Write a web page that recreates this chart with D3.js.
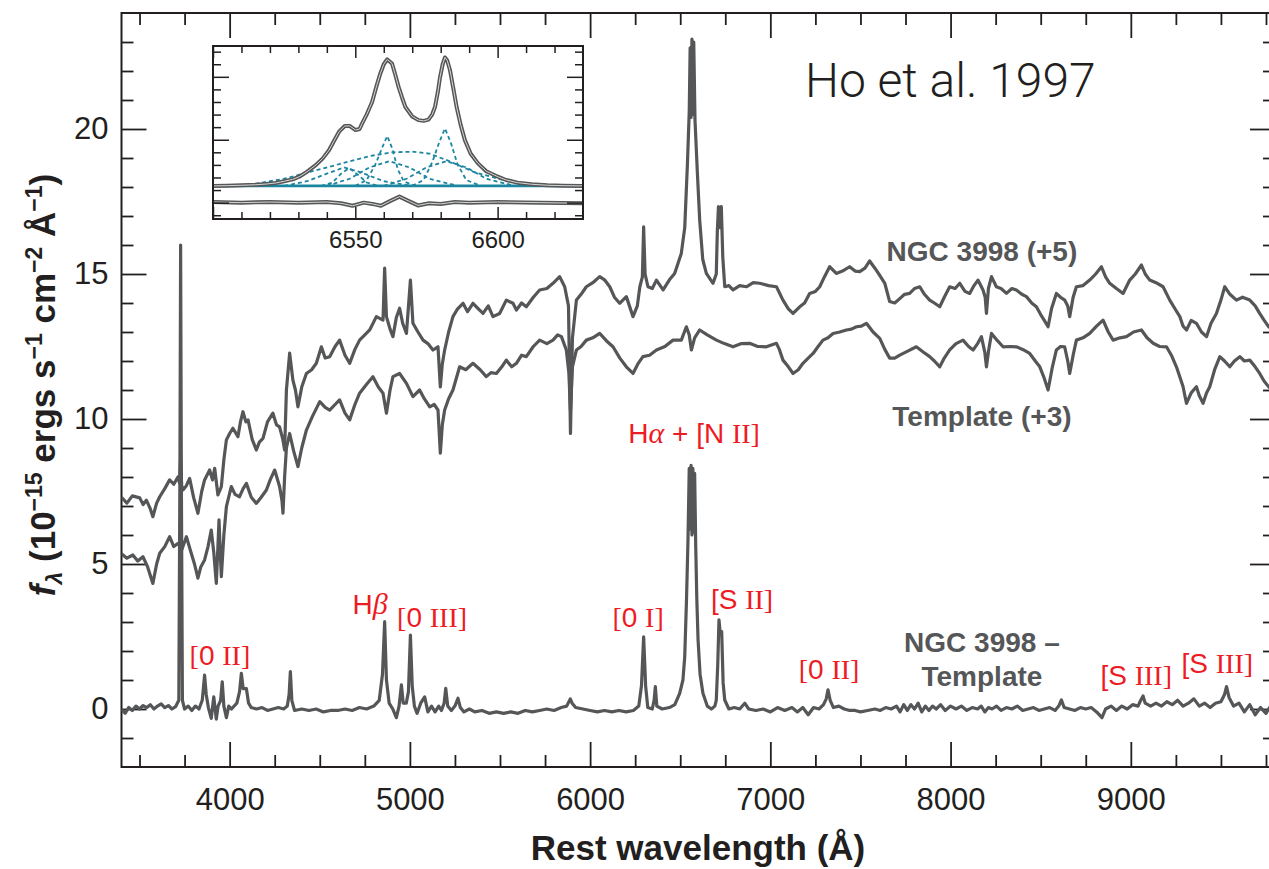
<!DOCTYPE html>
<html lang="en">
<head>
<meta charset="UTF-8">
<title>NGC 3998 spectrum</title>
<script src="https://d3js.org/d3.v7.min.js"></script>
<style>
  body { margin: 0; background: #fff; }
  svg { display: block; }
</style>
</head>
<body>
<svg id="chart" width="1269" height="869"></svg>
<script>
// ---- data (wavelength in Å, flux in 1e-15 erg/s/cm2/Å, as plotted) ----
// NGC 3998 spectrum, shifted by +5
const ngcSpectrum = [
  [3400,7.3],[3430,7.1],[3460,7.35],[3501,7.28],[3520,7.05],[3538,7.2],[3560,6.9],[3574,6.63],[3595,7.1],[3612,7.32],
  [3640,7.6],[3667,7.9],[3690,7.75],[3713,8.0],[3722,7.8],[3728,8.6],[3734,7.7],[3741,7.55],[3760,7.7],[3778,7.95],
  [3800,7.3],[3824,6.75],[3845,7.5],[3861,7.9],[3889,8.24],[3905,7.9],[3917,8.3],[3935,7.38],[3954,7.67],[3968,8.6],
  [3982,9.28],[4000,9.5],[4018,9.68],[4046,9.39],[4060,9.9],[4074,10.25],[4090,9.9],[4102,9.97],[4125,9.3],[4148,8.93],
  [4165,9.2],[4185,9.33],[4210,9.9],[4240,10.2],[4260,9.8],[4277,9.73],[4295,9.3],[4305,8.93],[4315,11.0],[4333,12.27],
  [4351,11.34],[4365,11.0],[4379,10.42],[4400,11.1],[4426,11.57],[4455,11.7],[4481,11.92],[4509,12.49],[4530,12.1],[4555,12.15],
  [4585,12.5],[4610,12.72],[4640,12.2],[4666,11.92],[4695,12.4],[4721,12.72],[4750,12.9],[4777,13.07],[4814,13.53],[4851,13.41],
  [4860,15.2],[4870,13.53],[4890,13.1],[4906,12.84],[4925,13.5],[4943,13.82],[4960,13.3],[4981,12.95],[5003,14.79],[5017,13.3],
  [5045,13.0],[5073,12.72],[5100,12.6],[5128,12.38],[5156,12.49],[5169,11.11],[5180,11.9],[5193,12.38],[5215,13.0],[5239,13.53],
  [5265,13.8],[5295,13.99],[5320,13.7],[5350,13.99],[5380,13.8],[5406,13.64],[5435,13.9],[5461,13.53],[5498,13.64],[5535,14.1],
  [5572,13.99],[5591,13.76],[5620,14.0],[5646,13.87],[5685,14.2],[5720,14.45],[5760,14.5],[5794,14.68],[5831,14.91],[5859,14.56],
  [5880,13.9],[5891,9.5],[5902,12.8],[5924,14.1],[5950,14.3],[5979,14.56],[6015,14.7],[6053,14.91],[6080,14.8],[6109,14.56],
  [6135,14.2],[6164,13.99],[6201,14.22],[6238,13.53],[6262,13.9],[6276,14.56],[6290,14.9],[6297,16.63],[6305,15.0],[6321,14.56],
  [6345,14.5],[6368,14.79],[6405,14.45],[6440,14.8],[6469,15.02],[6506,15.71],[6525,16.6],[6540,18.8],[6550,20.6],[6555,22.8],
  [6560,20.4],[6565,23.1],[6570,20.5],[6575,23.0],[6582,20.3],[6595,18.5],[6608,16.86],[6625,15.5],[6645,15.02],[6682,14.68],
  [6700,15.0],[6706,16.5],[6712,17.32],[6720,16.6],[6728,17.32],[6736,15.6],[6747,14.56],[6770,14.6],[6793,14.45],[6830,14.6],
  [6867,14.56],[6905,14.7],[6941,14.68],[6990,14.6],[7034,14.56],[7070,14.1],[7100,13.8],[7126,13.64],[7163,13.87],[7190,14.0],
  [7218,14.33],[7250,14.4],[7274,14.56],[7300,14.9],[7329,15.25],[7366,15.02],[7400,15.1],[7440,15.25],[7470,15.1],[7496,15.08],
  [7525,15.2],[7551,15.45],[7580,15.2],[7607,14.95],[7635,14.68],[7662,14.05],[7690,14.0],[7718,14.15],[7745,14.3],[7773,14.33],
  [7800,14.5],[7829,14.56],[7855,14.3],[7884,14.1],[7910,14.0],[7940,13.87],[7965,14.2],[7995,14.56],[8025,14.5],[8051,14.68],
  [8080,14.4],[8106,14.33],[8130,14.6],[8152,14.79],[8180,14.45],[8192,14.2],[8199,13.64],[8210,14.5],[8227,14.91],[8254,14.56],
  [8280,14.5],[8310,14.33],[8340,14.5],[8365,14.45],[8395,14.3],[8421,14.22],[8450,14.0],[8476,13.87],[8500,13.6],[8520,13.4],
  [8541,13.18],[8560,13.8],[8587,14.33],[8610,14.2],[8633,14.1],[8650,13.9],[8661,13.53],[8680,14.2],[8698,14.56],[8735,14.6],
  [8772,14.79],[8805,15.0],[8837,15.25],[8860,14.9],[8883,14.68],[8920,14.5],[8957,14.33],[8994,14.79],[9025,15.0],[9059,15.31],
  [9080,15.0],[9105,14.79],[9140,14.7],[9179,14.56],[9216,14.1],[9245,13.8],[9272,13.53],[9290,13.2],[9309,13.07],[9335,13.4],
  [9364,13.3],[9392,13.0],[9420,12.84],[9445,13.3],[9475,13.64],[9500,14.1],[9521,14.56],[9550,14.3],[9586,14.1],[9620,14.2],
  [9660,14.1],[9690,13.9],[9715,13.64],[9740,13.4],[9765,13.18],[9800,13.0]
];

// Template spectrum, shifted by +3
const templateSpectrum = [
  [3400,5.35],[3430,5.2],[3463,5.31],[3490,5.1],[3519,5.25],[3545,4.9],[3574,4.33],[3595,5.0],[3612,5.37],[3640,5.6],
  [3667,5.94],[3690,5.6],[3713,5.71],[3735,5.5],[3760,5.94],[3787,5.37],[3805,5.0],[3824,4.51],[3840,4.9],[3861,5.14],
  [3880,5.6],[3898,6.17],[3912,5.4],[3926,4.33],[3935,5.6],[3941,6.52],[3948,5.4],[3954,4.56],[3968,6.0],[3982,6.98],
  [4009,7.67],[4030,7.4],[4055,7.32],[4075,7.6],[4093,7.78],[4120,7.3],[4148,7.09],[4175,7.3],[4204,7.55],[4225,7.9],
  [4250,8.24],[4277,7.67],[4290,7.2],[4296,6.75],[4305,8.0],[4315,9.0],[4333,9.5],[4355,8.9],[4379,8.36],[4400,9.0],
  [4426,9.62],[4460,10.1],[4500,10.6],[4530,10.4],[4555,10.31],[4585,10.5],[4610,10.66],[4640,10.2],[4666,9.97],[4695,10.5],
  [4721,10.89],[4760,11.2],[4795,11.46],[4825,11.1],[4851,10.89],[4870,10.2],[4890,11.0],[4906,11.46],[4943,11.57],[4981,11.23],
  [5017,10.77],[5054,11.0],[5080,10.7],[5110,10.42],[5135,10.5],[5156,10.31],[5169,8.82],[5180,9.8],[5193,10.31],[5215,10.7],
  [5239,11.0],[5276,11.8],[5310,11.7],[5350,11.92],[5390,11.7],[5424,11.46],[5450,11.6],[5480,11.57],[5510,11.8],[5535,12.03],
  [5565,11.8],[5591,11.92],[5620,12.2],[5646,12.15],[5685,12.5],[5720,12.72],[5760,12.6],[5794,12.72],[5820,12.9],[5841,12.84],
  [5868,12.38],[5882,11.6],[5891,10.3],[5902,11.8],[5924,12.38],[5950,12.5],[5979,12.72],[6015,12.8],[6053,12.95],[6090,12.7],
  [6127,12.49],[6165,12.1],[6201,11.8],[6238,11.57],[6265,11.9],[6293,12.15],[6330,12.2],[6368,12.38],[6415,12.5],[6460,12.72],
  [6506,12.72],[6534,13.18],[6550,12.9],[6562,12.38],[6580,12.8],[6608,13.07],[6650,12.9],[6701,12.72],[6745,12.6],[6793,12.49],
  [6840,12.6],[6885,12.61],[6930,12.5],[6978,12.49],[7034,12.61],[7050,12.4],[7070,12.03],[7100,11.8],[7126,11.57],[7155,11.7],
  [7181,11.92],[7210,12.1],[7237,12.26],[7265,12.5],[7292,12.72],[7320,12.8],[7348,12.95],[7385,13.0],[7422,13.07],[7450,13.1],
  [7478,13.18],[7505,13.2],[7533,13.3],[7570,13.0],[7607,12.78],[7635,12.4],[7662,12.1],[7690,12.1],[7718,12.2],[7765,12.35],
  [7810,12.49],[7850,12.3],[7884,12.15],[7910,12.0],[7940,11.8],[7965,12.1],[7995,12.38],[8030,12.6],[8069,12.72],[8100,12.5],
  [8125,12.38],[8150,12.6],[8171,12.84],[8190,12.3],[8199,11.8],[8212,12.4],[8227,12.95],[8260,12.7],[8291,12.49],[8330,12.5],
  [8365,12.49],[8400,12.4],[8439,12.26],[8470,12.0],[8495,11.8],[8520,11.4],[8541,11.0],[8565,11.8],[8587,12.38],[8610,12.5],
  [8633,12.49],[8650,12.0],[8661,11.57],[8680,12.2],[8698,12.72],[8735,12.8],[8772,12.95],[8810,13.2],[8846,13.41],[8875,13.0],
  [8902,12.72],[8940,12.8],[8976,12.84],[9015,13.0],[9059,13.07],[9090,12.8],[9124,12.61],[9160,12.5],[9198,12.49],[9225,12.2],
  [9253,11.8],[9275,11.4],[9290,11.11],[9300,10.8],[9309,10.54],[9335,10.9],[9364,11.11],[9380,10.8],[9401,10.54],[9420,10.9],
  [9438,11.11],[9465,11.7],[9494,12.15],[9520,12.0],[9549,11.8],[9575,12.0],[9605,12.15],[9630,12.0],[9660,12.03],[9690,11.8],
  [9715,11.57],[9740,11.3],[9765,11.11],[9800,10.9]
];

// NGC 3998 minus template
const residualSpectrum = [
  [3400,0.0],[3420,-0.15],[3440,0.05],[3460,-0.05],[3480,0.1],[3500,0.0],[3520,0.12],[3540,0.05],[3560,0.15],[3580,0.0],
  [3600,0.1],[3620,0.18],[3640,0.05],[3660,0.12],[3680,0.0],[3700,0.08],[3718,0.3],[3724,8.0],[3728,16.0],[3732,8.0],
  [3738,0.3],[3750,0.0],[3770,0.1],[3790,-0.05],[3810,0.1],[3830,0.0],[3848,0.3],[3861,1.17],[3870,0.5],[3882,0.05],
  [3898,-0.32],[3912,0.42],[3926,-0.35],[3936,0.1],[3950,0.3],[3959,0.94],[3968,0.1],[3982,-0.3],[3995,0.1],[4010,0.0],
  [4040,0.2],[4055,0.6],[4065,1.23],[4075,0.7],[4093,0.7],[4105,0.2],[4120,0.05],[4150,0.0],[4180,0.05],[4210,-0.05],
  [4240,0.0],[4270,0.05],[4300,0.0],[4320,0.1],[4330,0.5],[4337,1.29],[4345,0.3],[4360,-0.05],[4400,0.0],[4440,-0.05],
  [4480,0.0],[4520,-0.1],[4560,-0.05],[4600,-0.05],[4640,0.0],[4680,-0.05],[4720,0.05],[4760,0.0],[4800,0.1],[4830,0.3],
  [4848,1.2],[4860,3.01],[4870,1.0],[4885,0.2],[4905,0.0],[4925,-0.3],[4940,0.1],[4953,0.83],[4963,0.2],[4980,0.2],
  [4992,0.6],[5003,2.55],[5013,0.8],[5025,0.1],[5040,-0.15],[5060,0.2],[5082,0.42],[5100,-0.1],[5120,0.1],[5140,-0.1],
  [5160,0.1],[5175,-0.05],[5190,0.2],[5199,0.71],[5210,0.1],[5230,-0.05],[5250,0.1],[5267,0.37],[5280,0.05],[5300,-0.1],
  [5330,0.0],[5360,-0.1],[5400,-0.05],[5440,-0.15],[5480,-0.1],[5520,-0.15],[5560,-0.1],[5600,-0.15],[5640,-0.05],[5680,-0.1],
  [5720,-0.05],[5760,0.0],[5800,-0.05],[5840,0.05],[5870,0.1],[5890,0.35],[5900,0.2],[5920,0.05],[5960,0.0],[6000,-0.05],
  [6040,-0.1],[6080,-0.05],[6120,-0.1],[6160,-0.05],[6200,-0.1],[6240,-0.05],[6270,0.1],[6285,0.8],[6297,2.49],[6308,0.8],
  [6320,0.05],[6345,0.0],[6355,0.3],[6362,0.77],[6370,0.1],[6400,0.0],[6440,0.05],[6470,0.15],[6497,0.54],[6515,1.0],
  [6525,1.8],[6535,3.8],[6543,5.83],[6550,8.3],[6555,6.2],[6560,8.4],[6565,6.0],[6570,8.3],[6575,6.1],[6580,8.13],
  [6586,5.6],[6592,3.8],[6599,2.38],[6610,1.2],[6626,0.54],[6650,0.1],[6673,0.0],[6692,0.1],[6700,0.3],[6708,1.5],
  [6715,3.07],[6722,2.6],[6730,2.67],[6738,0.9],[6747,0.31],[6770,0.0],[6800,0.05],[6830,0.0],[6858,0.2],[6880,0.0],
  [6920,-0.05],[6960,0.0],[7000,-0.1],[7040,0.05],[7080,-0.05],[7120,0.05],[7150,-0.1],[7180,0.05],[7210,-0.2],[7240,0.05],
  [7270,0.0],[7295,0.15],[7310,0.35],[7320,0.66],[7332,0.3],[7350,0.05],[7380,0.1],[7410,0.0],[7440,-0.05],[7470,-0.05],
  [7500,-0.1],[7540,-0.05],[7580,0.0],[7610,-0.05],[7640,0.05],[7670,0.0],[7700,0.1],[7720,-0.1],[7740,0.15],[7760,-0.05],
  [7780,0.15],[7800,0.0],[7820,0.2],[7840,-0.1],[7860,0.1],[7880,-0.05],[7900,0.1],[7920,0.0],[7945,0.15],[7970,-0.05],
  [8000,0.1],[8030,0.0],[8060,0.1],[8090,-0.05],[8120,0.05],[8150,0.0],[8170,0.1],[8190,-0.1],[8210,0.05],[8230,0.0],
  [8255,0.1],[8280,-0.05],[8310,0.05],[8340,0.0],[8370,0.1],[8400,-0.05],[8430,0.0],[8460,0.05],[8490,-0.05],[8520,0.0],
  [8550,0.05],[8580,-0.05],[8600,0.1],[8615,0.31],[8630,0.05],[8660,0.0],[8690,-0.05],[8720,0.05],[8750,0.0],[8780,0.05],
  [8810,-0.1],[8840,-0.3],[8860,0.0],[8890,0.1],[8920,-0.05],[8950,0.1],[8980,0.0],[9010,0.15],[9040,0.1],[9055,0.3],
  [9068,0.45],[9080,0.2],[9110,0.1],[9140,0.2],[9170,0.1],[9200,0.25],[9230,0.15],[9260,0.3],[9290,0.1],[9320,0.2],
  [9350,0.35],[9380,0.1],[9410,0.2],[9440,0.05],[9470,0.2],[9500,0.25],[9520,0.5],[9531,0.77],[9545,0.4],[9570,0.1],
  [9600,0.2],[9630,-0.1],[9660,0.15],[9690,-0.2],[9720,0.05],[9750,-0.15],[9775,0.1],[9800,0.0]
];

// inset: Hα + [N II] region, arbitrary flux units
const insetProfile = [
  [6500,1.33],[6505,1.35],[6510,1.38],[6515,1.42],[6518.7,1.48],[6522,1.56],[6525,1.7],[6528,1.85],[6530.3,2.06],[6533,2.45],
  [6536.2,3.0],[6538.5,3.5],[6540.8,4.18],[6542.5,4.9],[6544.3,5.64],[6546.3,6.09],[6548,6.1],[6550.1,5.77],[6551.5,5.85],[6552.4,6.3],
  [6554,7.0],[6555.9,8.0],[6557.5,9.3],[6558.8,10.27],[6560,11.0],[6561.2,11.38],[6562.9,11.06],[6564,10.2],[6565.2,9.2],[6566.5,8.3],
  [6567.6,7.6],[6570,6.85],[6572.2,6.56],[6574,6.5],[6575.7,6.6],[6577,7.0],[6578,7.6],[6579,8.8],[6579.8,10.0],[6580.7,11.0],
  [6581.5,11.54],[6582.3,11.3],[6583.3,10.5],[6584.5,9.0],[6585.6,7.6],[6587,6.2],[6588.5,4.97],[6590.5,3.9],[6593.1,3.12],[6596,2.5],
  [6600.1,2.06],[6603,1.8],[6607,1.59],[6612,1.46],[6617.5,1.38],[6623,1.35],[6630,1.33]
];
const insetResidual = [
  [6500,0.05],[6510,0.0],[6520,0.05],[6530,0.0],[6540,0.05],[6545,-0.05],[6549,-0.25],[6553,0.0],[6556,-0.1],[6559,-0.25],
  [6562,0.1],[6565.5,0.48],[6569,0.1],[6572,-0.22],[6576,-0.05],[6580,-0.1],[6585,0.05],[6590,0.0],[6600,0.05],[6615,0.0],[6630,-0.05]
];
const insetContinuum = 1.33;
const insetComponents = [
  [[6538,1.33],[6542,1.6],[6545,2.3],[6547.8,2.75],[6551,2.2],[6554,1.6],[6558,1.33]],
  [[6550,1.33],[6554,1.8],[6557,3.0],[6559.5,4.4],[6561.2,5.3],[6563,4.3],[6565,2.6],[6567,1.7],[6571,1.33]],
  [[6570,1.33],[6574,1.8],[6577,3.2],[6579.5,4.8],[6581.5,5.9],[6583.5,4.8],[6586,3.0],[6589,1.8],[6594,1.33]],
  [[6505,1.33],[6515,1.5],[6525,1.9],[6535,2.5],[6545,3.1],[6555,3.7],[6563,4.0],[6570,4.05],[6576,3.9],[6583,3.3],[6592,2.4],[6602,1.8],[6612,1.45],[6625,1.33]],
  [[6525,1.33],[6533,1.7],[6540,2.3],[6546,2.8],[6552,2.4],[6560,1.7],[6570,1.33]],
  [[6540,1.33],[6548,1.9],[6555,2.8],[6562,3.3],[6569,2.8],[6576,1.9],[6586,1.33]],
  [[6560,1.33],[6568,1.9],[6575,2.8],[6582,3.3],[6589,2.8],[6596,1.9],[6606,1.33]]
];

// ticks
const xMajorTicks = [4000, 5000, 6000, 7000, 8000, 9000];
const yMajorTicks = [0, 5, 10, 15, 20];
const insetXLabels = [6550, 6600];
const insetXMajor = [6500, 6550, 6600];
const insetYMajor = [0, 5, 10];

// annotations, anchored in data coordinates
const lineLabels = [
  { parts: [["[", "s"], ["0 ", "n"], ["II]", "s"]], wave: 3946, flux: 1.52 },
  { parts: [["H", "n"], ["β", "i"]], wave: 4779, flux: 3.28 },
  { parts: [["[", "s"], ["0 ", "n"], ["III]", "s"]], wave: 5123, flux: 2.83 },
  { parts: [["[", "s"], ["0 ", "n"], ["I]", "s"]], wave: 6266, flux: 2.83 },
  { parts: [["H", "n"], ["α", "i"], [" + [N ", "n"], ["II]", "s"]], wave: 6577, flux: 9.17 },
  { parts: [["[S ", "n"], ["II]", "s"]], wave: 6843, flux: 3.45 },
  { parts: [["[", "s"], ["0 ", "n"], ["II]", "s"]], wave: 7326, flux: 1.03 },
  { parts: [["[S ", "n"], ["III]", "s"]], wave: 9030, flux: 0.83 },
  { parts: [["[S ", "n"], ["III]", "s"]], wave: 9480, flux: 1.24 }
];
const seriesLabels = [
  { text: "NGC 3998 (+5)", wave: 8174, flux: 15.45 },
  { text: "Template (+3)", wave: 8174, flux: 9.76 },
  { text: "NGC 3998 –", wave: 8174, flux: 1.97 },
  { text: "Template", wave: 8174, flux: 0.78 }
];

// ---- layout ----
const svg = d3.select("#chart");
const plot = { left: 121.5, right: 1275, top: 13, bottom: 767 };
const inset = { left: 213, right: 583, top: 46, bottom: 219 };
const ink = "#231f20", specGray = "#555658", red = "#ed1c24", teal = "#1c86a0";
const sans = "'Liberation Sans', Arial, Helvetica, sans-serif";
const serif = "'Liberation Serif', 'Times New Roman', serif";

const x = d3.scaleLinear().domain([3400, 9800]).range([plot.left, plot.right]);
const y = d3.scaleLinear().domain([-2, 24]).range([plot.bottom, plot.top]);

svg.append("defs").append("clipPath").attr("id", "plotClip")
  .append("rect")
  .attr("x", plot.left).attr("y", plot.top)
  .attr("width", plot.right - plot.left).attr("height", plot.bottom - plot.top);

// axes with inward ticks on all four sides
function styleAxis(g, fontSize) {
  g.select(".domain").remove();
  g.selectAll(".tick line").attr("stroke", ink).attr("stroke-width", 1.8);
  g.selectAll(".tick text").attr("fill", ink).style("font-family", sans).style("font-size", fontSize + "px");
}

const xMinor = d3.range(3500, 9800, 250).filter(v => v % 1000 !== 0);
const yMinor = d3.range(-1, 24).filter(v => v % 5 !== 0);

svg.append("g").attr("transform", `translate(0,${plot.bottom})`)
  .call(d3.axisBottom(x).tickValues(xMajorTicks).tickSize(-25).tickPadding(21).tickFormat(d3.format("d")))
  .call(g => styleAxis(g, 31));
svg.append("g").attr("transform", `translate(0,${plot.bottom})`)
  .call(d3.axisBottom(x).tickValues(xMinor).tickSize(-12).tickFormat(""))
  .call(g => styleAxis(g, 31));
svg.append("g").attr("transform", `translate(0,${plot.top})`)
  .call(d3.axisTop(x).tickValues(xMajorTicks).tickSize(-25).tickFormat(""))
  .call(g => styleAxis(g, 31));
svg.append("g").attr("transform", `translate(0,${plot.top})`)
  .call(d3.axisTop(x).tickValues(xMinor).tickSize(-12).tickFormat(""))
  .call(g => styleAxis(g, 31));

svg.append("g").attr("transform", `translate(${plot.left},0)`)
  .call(d3.axisLeft(y).tickValues(yMajorTicks).tickSize(-25).tickPadding(13))
  .call(g => styleAxis(g, 31));
svg.append("g").attr("transform", `translate(${plot.left},0)`)
  .call(d3.axisLeft(y).tickValues(yMinor).tickSize(-12).tickFormat(""))
  .call(g => styleAxis(g, 31));
svg.append("g").attr("transform", `translate(${plot.right},0)`)
  .call(d3.axisRight(y).tickValues(yMajorTicks).tickSize(-25).tickFormat(""))
  .call(g => styleAxis(g, 31));
svg.append("g").attr("transform", `translate(${plot.right},0)`)
  .call(d3.axisRight(y).tickValues(yMinor).tickSize(-12).tickFormat(""))
  .call(g => styleAxis(g, 31));

svg.append("rect")
  .attr("x", plot.left).attr("y", plot.top)
  .attr("width", plot.right - plot.left).attr("height", plot.bottom - plot.top)
  .attr("fill", "none").attr("stroke", ink).attr("stroke-width", 2);

// spectra
const line = d3.line().x(d => x(d[0])).y(d => y(d[1]));
const specG = svg.append("g").attr("clip-path", "url(#plotClip)");
[ngcSpectrum, templateSpectrum, residualSpectrum].forEach(s => {
  specG.append("path")
    .attr("d", line(s))
    .attr("fill", "none")
    .attr("stroke", specGray)
    .attr("stroke-width", 3.2)
    .attr("stroke-linejoin", "round");
});

// axis titles
svg.append("text")
  .attr("x", 698).attr("y", 860)
  .attr("text-anchor", "middle")
  .style("font-family", sans).style("font-size", "35px").style("font-weight", "bold")
  .attr("fill", ink)
  .text("Rest wavelength (Å)");

const yTitle = svg.append("text")
  .attr("transform", "rotate(-90)")
  .attr("x", -385).attr("y", 55)
  .attr("text-anchor", "middle")
  .style("font-family", sans).style("font-size", "35px").style("font-weight", "bold")
  .attr("fill", ink);
const sup = (t) => yTitle.append("tspan").attr("dy", -13).style("font-size", "23px").text(t);
const back = (t) => yTitle.append("tspan").attr("dy", 13).text(t);
yTitle.append("tspan").style("font-style", "italic").text("f");
yTitle.append("tspan").attr("dy", 7).style("font-style", "italic").style("font-size", "23px").text("λ");
yTitle.append("tspan").attr("dy", -7).text(" (10");
sup("−15"); back(" ergs s"); sup("−1"); back(" cm"); sup("−2"); back(" Å"); sup("−1"); back(")");

// labels
svg.append("text")
  .attr("x", x(7192)).attr("y", y(21.1))
  .style("font-family", "Roboto, 'Liberation Sans', Arial, sans-serif")
  .style("font-weight", "300").style("font-size", "48px")
  .attr("fill", ink)
  .text("Ho et al. 1997");

svg.selectAll(".serieslabel")
  .data(seriesLabels)
  .join("text")
  .attr("class", "serieslabel")
  .attr("x", d => x(d.wave)).attr("y", d => y(d.flux))
  .attr("text-anchor", "middle")
  .style("font-family", sans).style("font-size", "28px").style("font-weight", "bold")
  .attr("fill", specGray)
  .text(d => d.text);

lineLabels.forEach(lab => {
  const t = svg.append("text")
    .attr("x", x(lab.wave)).attr("y", y(lab.flux))
    .attr("text-anchor", "middle")
    .style("font-size", "28px")
    .attr("fill", red);
  lab.parts.forEach(([txt, kind]) => {
    const ts = t.append("tspan").text(txt);
    if (kind === "n") ts.style("font-family", sans);
    else ts.style("font-family", serif);
    if (kind === "i") ts.style("font-style", "italic").style("font-size", "30px");
  });
});

// ---- inset ----
const ix = d3.scaleLinear().domain([6500, 6630]).range([inset.left, inset.right]);
const iy = d3.scaleLinear().domain([-1.3, 12.45]).range([inset.bottom, inset.top]);
const iline = d3.line().x(d => ix(d[0])).y(d => iy(d[1]));
const insetG = svg.append("g");

insetG.append("rect")
  .attr("x", inset.left).attr("y", inset.top)
  .attr("width", inset.right - inset.left).attr("height", inset.bottom - inset.top)
  .attr("fill", "#fff");

insetComponents.forEach(c => {
  insetG.append("path")
    .attr("d", iline(c))
    .attr("fill", "none").attr("stroke", teal)
    .attr("stroke-width", 1.8).attr("stroke-dasharray", "4,3");
});
insetG.append("path")
  .attr("d", iline([[6500, insetContinuum], [6630, insetContinuum]]))
  .attr("stroke", teal).attr("stroke-width", 2.6);

[insetProfile, insetResidual].forEach(s => {
  insetG.append("path").attr("d", iline(s))
    .attr("fill", "none").attr("stroke", specGray).attr("stroke-width", 4).attr("stroke-linejoin", "round");
  insetG.append("path").attr("d", iline(s))
    .attr("fill", "none").attr("stroke", "#d6d6d6").attr("stroke-width", 1).attr("stroke-linejoin", "round");
});

const ixMinor = d3.range(6510, 6630, 10).filter(v => !insetXMajor.includes(v));
const iyMinor = d3.range(-1, 13).filter(v => !insetYMajor.includes(v));
function insetAxis(axis, tf) {
  insetG.append("g").attr("transform", tf).call(axis).call(g => styleAxis(g, 24))
    .call(g => g.selectAll(".tick line").attr("stroke-width", 1.5));
}
insetAxis(d3.axisBottom(ix).tickValues(insetXMajor).tickSize(-12).tickFormat(""), `translate(0,${inset.bottom})`);
insetAxis(d3.axisBottom(ix).tickValues(ixMinor).tickSize(-7).tickFormat(""), `translate(0,${inset.bottom})`);
insetAxis(d3.axisBottom(ix).tickValues(insetXLabels).tickSize(0).tickPadding(12).tickFormat(d3.format("d")), `translate(0,${inset.bottom})`);
insetAxis(d3.axisTop(ix).tickValues(insetXMajor).tickSize(-12).tickFormat(""), `translate(0,${inset.top})`);
insetAxis(d3.axisTop(ix).tickValues(ixMinor).tickSize(-7).tickFormat(""), `translate(0,${inset.top})`);
insetAxis(d3.axisLeft(iy).tickValues(insetYMajor).tickSize(-16).tickFormat(""), `translate(${inset.left},0)`);
insetAxis(d3.axisLeft(iy).tickValues(iyMinor).tickSize(-8).tickFormat(""), `translate(${inset.left},0)`);
insetAxis(d3.axisRight(iy).tickValues(insetYMajor).tickSize(-16).tickFormat(""), `translate(${inset.right},0)`);
insetAxis(d3.axisRight(iy).tickValues(iyMinor).tickSize(-8).tickFormat(""), `translate(${inset.right},0)`);

insetG.append("rect")
  .attr("x", inset.left).attr("y", inset.top)
  .attr("width", inset.right - inset.left).attr("height", inset.bottom - inset.top)
  .attr("fill", "none").attr("stroke", ink).attr("stroke-width", 2);
</script>
</body>
</html>
